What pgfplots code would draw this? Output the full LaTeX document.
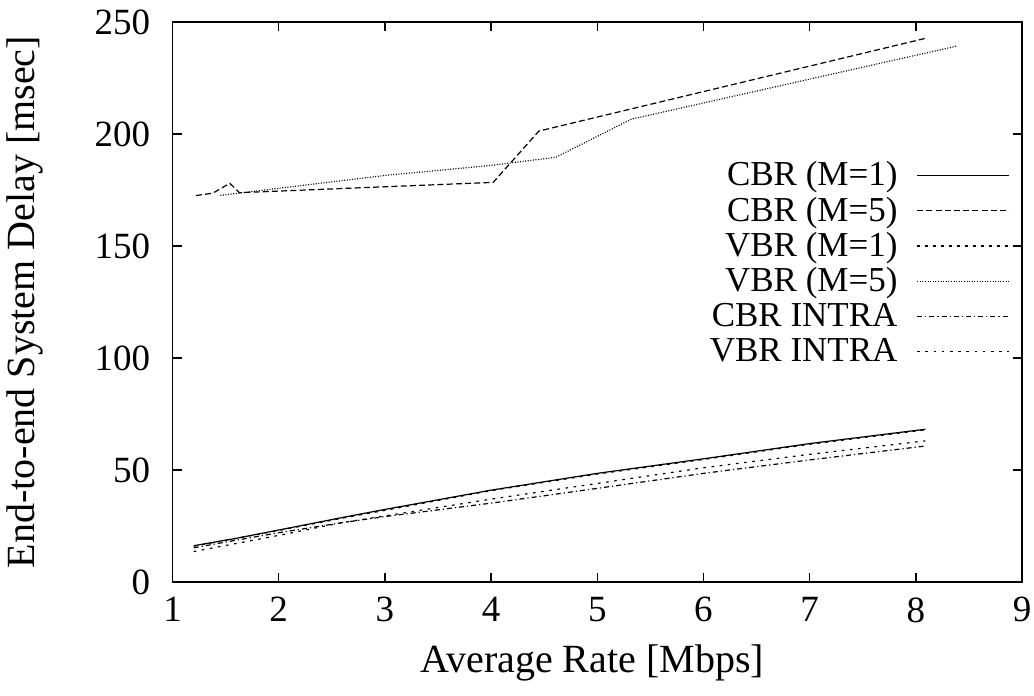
\documentclass[border=0pt]{standalone}
\usepackage{fontspec}
\setmainfont{Liberation Serif}
\usepackage{pgfplots}
\pgfplotsset{compat=1.18}
\begin{document}
\fontsize{18}{21}\selectfont
\begin{tikzpicture}
\begin{axis}[
  name=ax,
  scale only axis,
  width=424.75pt, height=280pt,
  xmin=1, xmax=9, ymin=0, ymax=250,
  xtick={1,2,...,9}, ytick={0,50,...,250},
  tick align=inside, tick pos=both,
  major tick length=4.5pt,
  axis line style={line width=0.9pt},
  every tick/.style={line width=0.7pt, black},
  /pgf/number format/assume math mode=true,
  ticklabel style={font=\fontsize{18.5}{21}\selectfont},
  xticklabel style={yshift=-1.5pt},
  yticklabel style={xshift=-5pt},
  legend plot pos=right,
  legend cell align=right,
  legend image code/.code={\draw[#1] (0pt,0pt) -- (46pt,0pt);},
  legend style={at={(rel axis cs:0.986,0.758)}, anchor=north east, draw=none, fill=none,
    inner sep=0pt, column sep=8pt, row sep=0pt,
    nodes={inner sep=1.5pt, text height=12.5pt, text depth=2.1pt},
    font=\fontsize{17.5}{21}\selectfont},
  every axis plot/.append style={line width=0.6pt, black},
]
\addplot[solid] coordinates {(1.2,16.2) (1.6,19.5) (2.0,23.2) (2.6,28.8) (3.0,32.4) (4.0,41) (5.0,48.5) (6.0,55) (7.0,61.8) (8.09,68.2)};
\addlegendentry{CBR (M=1)}
\addplot[dash pattern=on 3pt off 1.6pt] coordinates {(1.22,172.5) (1.38,173.6) (1.54,178) (1.63,173.8) (4.02,178.4) (4.45,201.3) (8.09,242.7)};
\addlegendentry{CBR (M=5)}
\addplot[dash pattern=on 1.6pt off 2.4pt] coordinates {(1.2,16.0) (2.0,23.0) (2.6,28.5) (3,32) (4,40.8) (5,48.2) (6,54.7) (7,61.5) (8.09,67.9)};
\addlegendentry{VBR (M=1)}
\addplot[dash pattern=on 0.5pt off 0.8pt] coordinates {(1.45,172.6) (3,181.5) (4.0,186) (4.61,189.6) (5.32,206.6) (8.39,239.3)};
\addlegendentry{VBR (M=5)}
\addplot[dash pattern=on 2.5pt off 1.5pt on 0.6pt off 1.5pt] coordinates {(1.2,15.3) (2,22) (2.6,26.5) (3,29.2) (4,35.2) (5,41.8) (6,48.5) (7,54.5) (8.09,60.7)};
\addlegendentry{CBR INTRA}
\addplot[dash pattern=on 1.3pt off 2.8pt] coordinates {(1.2,13.6) (2,20.8) (2.6,26.5) (3,29.5) (4,37) (5,44) (6,51) (7,57) (8.09,63)};
\addlegendentry{VBR INTRA}
\end{axis}
\node[font=\fontsize{20}{24}\selectfont, anchor=base] at ([xshift=-2.5pt,yshift=-45pt]ax.south) {Average Rate [Mbps]};
\node[font=\fontsize{20}{24}\selectfont, rotate=90, anchor=base] at ([xshift=-69pt]ax.west) {End-to-end System Delay [msec]};
\pgfresetboundingbox
\path ([xshift=-86.25pt,yshift=-56.5pt]ax.south west) rectangle ([xshift=6pt,yshift=11pt]ax.north east);
\end{tikzpicture}
\end{document}
